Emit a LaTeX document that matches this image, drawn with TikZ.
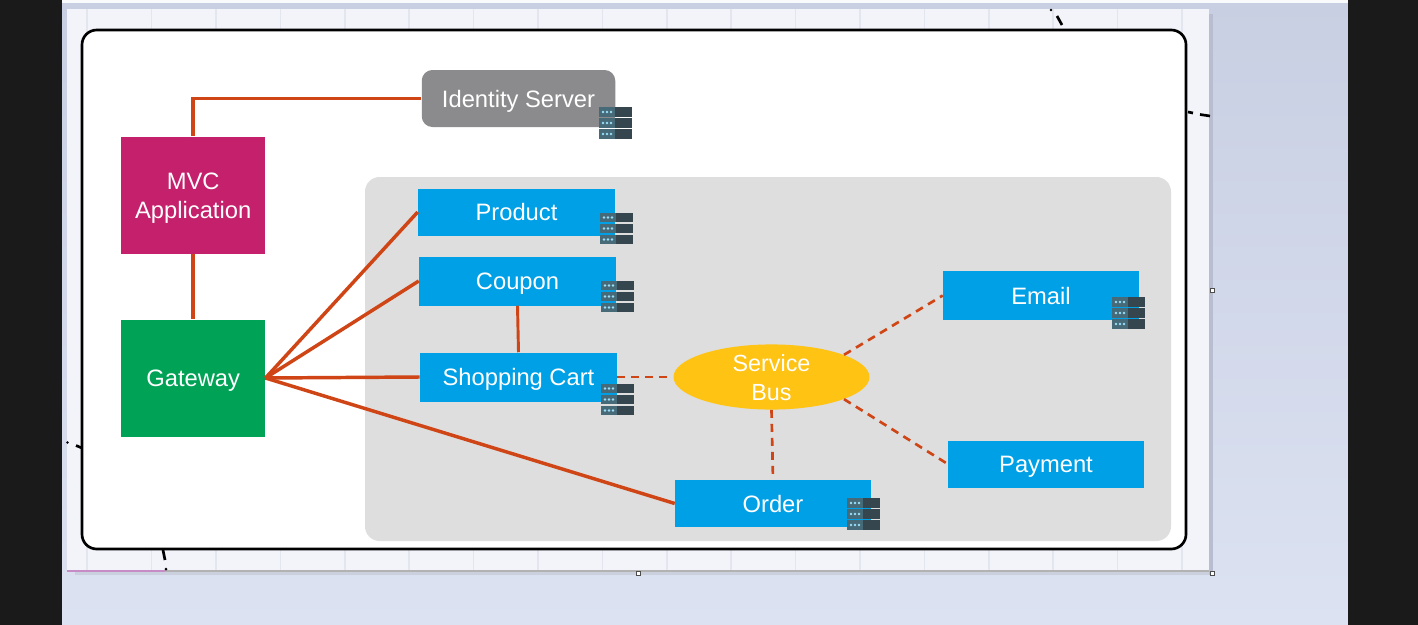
\documentclass[tikz,border=0pt]{standalone}
\usepackage{fontspec}
\setmainfont{Liberation Sans}
\usetikzlibrary{shapes.geometric}
\definecolor{conn}{HTML}{CF4516}
\definecolor{blueb}{HTML}{00A0E6}
\definecolor{mag}{HTML}{C4206C}
\definecolor{grn}{HTML}{00A356}
\definecolor{gry}{HTML}{8B8B8D}
\definecolor{panel}{HTML}{DEDEDE}
\definecolor{ylw}{HTML}{FFC314}
\definecolor{srvA}{HTML}{466A78}
\definecolor{srvB}{HTML}{35464E}
\definecolor{slide}{HTML}{F2F4FA}
\definecolor{gridc}{HTML}{E3E6EE}
\definecolor{bgtop}{HTML}{C8CFE2}
\definecolor{bgbot}{HTML}{DCE2F1}
\definecolor{barc}{HTML}{1A1A1A}
\newcommand{\tl}[1]{\raisebox{0pt}[12.8pt][0pt]{#1}}
\tikzset{
  x=0.75pt,y=-0.75pt,
  box/.style={draw=none,inner sep=0pt,text=white,align=center,font=\fontsize{17.8}{21.75}\selectfont},
  link/.style={draw=conn,line width=2.6pt},
  dlink/.style={draw=conn,line width=2pt,dash pattern=on 6pt off 4.5pt},
  tick/.style={draw=black,line width=2pt},
  handle/.style={draw=black!70,fill=white,line width=0.5pt,minimum size=3pt,inner sep=0pt},
  pics/srv/.style={code={
    \foreach \yy in {-16.5,-5.5,5.5}{
      \fill[srvB] (-16,\yy) rectangle (17,\yy+9.8);
      \fill[srvA] (-16,\yy) rectangle (0,\yy+9.8);
      \foreach \xx in {-12,-8,-4}\fill[white!60!cyan] (\xx,\yy+5) circle (1.3);
    }
  }}
}
\begin{document}
\begin{tikzpicture}
\useasboundingbox (0,0) rectangle (1418,625);
% backdrop
\shade[top color=bgtop,bottom color=bgbot] (62,0) rectangle (1348,625);
\fill[white!90!bgtop] (62,0) rectangle (1348,3);
\fill[barc] (0,0) rectangle (62,625);
\fill[barc] (1348,0) rectangle (1418,625);
\fill[black!8!bgbot] (75,571) rectangle (1213,575);
\fill[black!8!bgtop] (1209,14) rectangle (1213,575);
% slide
\fill[slide] (67,9) rectangle (1209,571);
\foreach \gx in {87,151.5,216,280.5,345,409,473.5,538,602.5,667,731,795.5,860,924.5,989,1053,1117.5,1182}{
  \draw[gridc,line width=0.8pt] (\gx,9) -- (\gx,571);
}
\draw[violet!45,line width=1pt] (67,571) -- (165,571);
\draw[black!30,line width=0.8pt] (165,571) -- (1209,571);
% ticks of a shape behind the slide
\draw[tick] (1057,16) -- (1062,25);
\fill[black] (1051,10) circle (1.3);
\draw[tick] (1188,112) -- (1193,113);
\draw[tick] (1200,114.5) -- (1210,116);
\draw[tick] (76,445.5) -- (82,448);
\fill[black] (67.5,442.5) circle (1.3);
\draw[tick] (163,550) -- (165,560);
\fill[black] (166,569) circle (1.5);
% frame
\draw[black,fill=white,line width=2pt,rounded corners=11] (82,30) rectangle (1186,549);
\fill[panel,rounded corners=11] (365,177) rectangle (1171,541);
% nodes
\node[box,fill=gry,rounded corners=8,minimum width=193.5*0.75pt,minimum height=57*0.75pt] (identity) at (518.5,98.5) {\tl{Identity Server}};
\node[box,fill=mag,minimum width=144*0.75pt,minimum height=117*0.75pt] (mvc) at (193.2,195) {\tl{MVC}\\\tl{Application}};
\node[box,fill=grn,minimum width=144*0.75pt,minimum height=117*0.75pt] (gateway) at (193.2,378) {\tl{Gateway}};
\node[box,fill=blueb,minimum width=197*0.75pt,minimum height=47*0.75pt] (product) at (516.5,212) {\tl{Product}};
\node[box,fill=blueb,minimum width=197*0.75pt,minimum height=49*0.75pt] (coupon) at (517.5,281) {\tl{Coupon}};
\node[box,fill=blueb,minimum width=197*0.75pt,minimum height=49*0.75pt] (cart) at (518.5,377) {\tl{Shopping Cart}};
\node[box,fill=blueb,minimum width=196*0.75pt,minimum height=49*0.75pt] (email) at (1041,295.5) {\tl{Email}};
\node[box,fill=blueb,minimum width=196*0.75pt,minimum height=47*0.75pt] (payment) at (1046,464) {\tl{Payment}};
\node[box,fill=blueb,minimum width=196*0.75pt,minimum height=47*0.75pt] (order) at (773,503.5) {\tl{Order}};
\node[ellipse,box,fill=ylw,minimum width=196*0.75pt,minimum height=61*0.75pt,font=\fontsize{17.5}{21.75}\selectfont] (bus) at (771.5,377) {\tl{Service}\\\tl{Bus}};
% connectors
\coordinate (corner) at (mvc.north |- identity.west);
\draw[link,line join=miter] (mvc.north) -- (corner) -- (identity.west);
\draw[link] (mvc.south) -- (gateway.north);
\draw[link] (gateway.east) -- (product.west);
\draw[link] (gateway.east) -- (coupon.west);
\draw[link] (gateway.east) -- (cart.west);
\draw[link] (gateway.east) -- (order.west);
\draw[draw=conn,line width=2.2pt] (coupon.south) -- (cart.north);
\draw[dlink] (cart.east) -- (bus.west);
\draw[dlink] (bus.17) -- (email.west);
\draw[dlink] (bus.-17) -- (payment.west);
\draw[dlink] (bus.south) -- (order.north);
% server icons
\pic at (615,123.5) {srv};
\pic at (616,229) {srv};
\pic at (617,297) {srv};
\pic at (617,400) {srv};
\pic at (1128,313.5) {srv};
\pic at (863,514.5) {srv};
% handles
\node[handle] (h1) at (638,573.5) {};
\node[handle] (h2) at (1212,573.5) {};
\node[handle] (h3) at (1212,290.5) {};
\end{tikzpicture}
\end{document}
